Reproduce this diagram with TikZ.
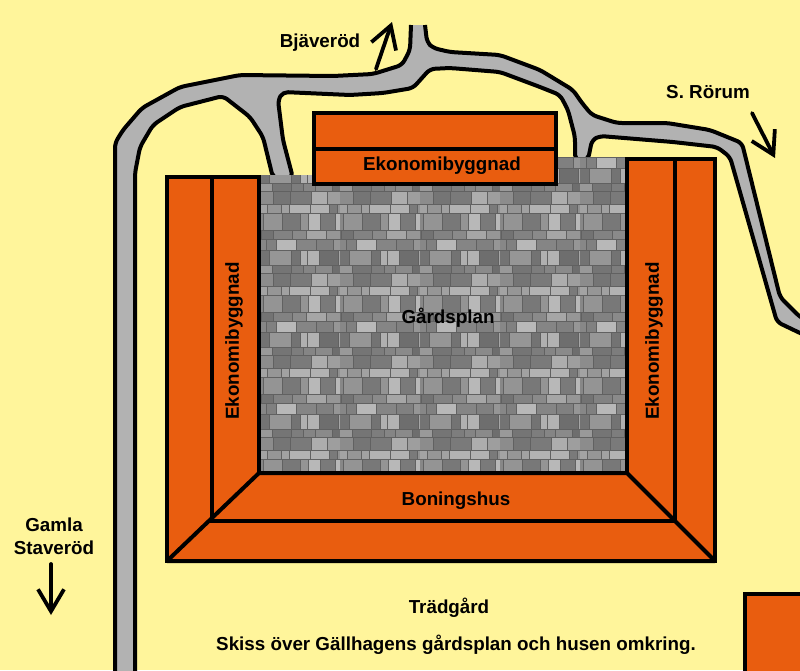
\documentclass[tikz,border=0pt]{standalone}
\usepackage{fontspec}
\setmainfont{Liberation Sans}
\usepackage{xcolor}
\usetikzlibrary{arrows.meta}
\definecolor{groundyellow}{RGB}{255,245,155}
\definecolor{roofbrown}{RGB}{233,93,15}
\definecolor{roadgray}{RGB}{178,178,178}
\tikzset{
    plankline/.style={line width=4pt, line join=miter},
    house/.style={plankline, draw=black, fill=roofbrown},
    road/.style={line width=4pt, draw=black, fill=roadgray, line join=round, rounded corners=5pt},
    place/.style={font=\bfseries\fontsize{18.8}{23}\selectfont, text=black, align=center, inner sep=0pt},
    way/.style={line width=3.8pt, line cap=round, -{Straight Barb[length=22pt,width=26pt,line width=3.8pt]}},
    stone/.style={draw=black!62, line width=0.7pt}
}
\begin{document}
\begin{tikzpicture}[x=1pt,y=-1pt]
    \useasboundingbox (0,0) rectangle (800,670);
    \clip (0,0) rectangle (800,670);
    \fill[groundyellow] (0,0) rectangle (800,670);

    % Roads
    \draw[road] (425,25) -- (427,42) -- (433,48) -- (450,52) -- (500,55) -- (540,70) -- (573,90)
        -- (582,103) -- (592,115) -- (617,123) -- (667,123) -- (710,130) -- (742,143)
        -- (780,297) -- (800,317) -- (815,325) -- (815,340) -- (800,333) -- (777,322)
        -- (730,157) -- (717,147) -- (673,142) -- (600,136) -- (592,140) -- (588,160)
        -- (575,160) -- (575,137) -- (568,110) -- (560,95) -- (540,87) -- (500,72) -- (450,68)
        -- (430,69) -- (413,88) -- (383,93) -- (350,95) -- (283,92) -- (278,100) -- (283,140)
        -- (293,178) -- (273,178) -- (263,137) -- (250,117) -- (223,96) -- (180,107)
        -- (153,125) -- (140,147) -- (135,173) -- (135,690) -- (115,690) -- (115,170)
        -- (115,143) -- (123,130) -- (142,108) -- (180,87) -- (240,75) -- (333,76)
        -- (373,74) -- (402,65) -- (410,50) -- (411,25);

    % Gardsplan stones, one tile repeated
    \begin{scope}
        \clip (260,175) -| (314,157) -| (627,473) -| cycle;
        \fill[black!55] (260,157) rectangle (627,473);
        \foreach \tilex in {0,...,4} {
            \foreach \tiley in {0,...,3} {
                \pgfmathsetseed{4711}
                \begin{scope}[shift={(260+80*\tilex,157+82*\tiley)}]
                    \clip (0,0) rectangle (80,82);
                    \foreach \rowy/\rowh in {0/11,11/15,26/8,34/13,47/9,56/17,73/9} {
                        \pgfmathsetmacro{\brickx}{-6-rnd*8}
                        \foreach \col in {1,...,8} {
                            \pgfmathsetmacro{\brickend}{\brickx+7+rnd*15}
                            \pgfmathsetmacro{\stonetone}{int(28+rnd*30)}
                            \draw[stone, fill=black!\stonetone] (\brickx,\rowy) rectangle (\brickend,\rowy+\rowh);
                            \global\let\brickx\brickend
                        }
                    }
                \end{scope}
            }
        }
    \end{scope}

    % Houses
    \draw[house] (167,177) rectangle (259,561);
    \draw[house] (627,159) rectangle (715,561);
    \draw[house, line join=round] (167,561) -- (259,473) -- (627,473) -- (715,561) -- cycle;
    \draw[plankline] (212,177) -- (212,521) -- (675,521) -- (675,159);
    \draw[house] (314,113) rectangle (556,184);
    \draw[plankline] (314,149) -- (556,149);
    \draw[house] (745,594) rectangle (820,690);

    % Labels
    \node[place] (bjaverod) at (320,43) {Bjäveröd};
    \node[place] (rorum) at (708,92) {S. Rörum};
    \node[place] (staverod) at (54,536) {Gamla\\Staveröd};
    \node[place] (topbarn) at (442,166) {Ekonomibyggnad};
    \node[place, rotate=90] (leftbarn) at (234,341) {Ekonomibyggnad};
    \node[place, rotate=90] (rightbarn) at (654,341) {Ekonomibyggnad};
    \node[place] (yard) at (448,318) {Gårdsplan};
    \node[place] (dwelling) at (456,501) {Boningshus};
    \node[place] (garden) at (449,608) {Trädgård};
    \node[place] (caption) at (456,645) {Skiss över Gällhagens gårdsplan och husen omkring.};

    % Arrows
    \draw[way] (376,69) -- (392,22);
    \draw[way] (752,113) -- (775,158);
    \draw[way] (51,564) -- (51,615);
\end{tikzpicture}
\end{document}
